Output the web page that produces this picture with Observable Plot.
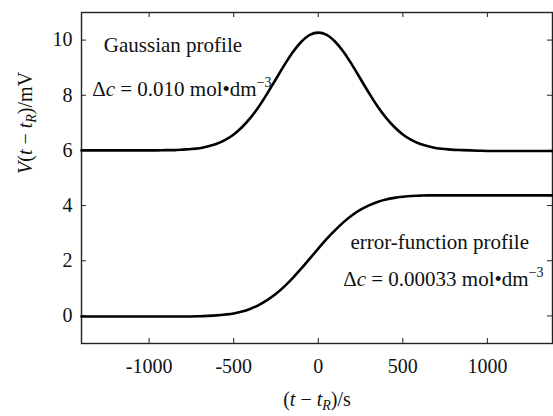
<!DOCTYPE html>
<html><head><meta charset="utf-8">
<script src="https://cdn.jsdelivr.net/npm/d3@7"></script>
<script src="https://cdn.jsdelivr.net/npm/@observablehq/plot@0.6"></script>
<style>body{margin:0;background:#fff} svg{display:block} svg text{font-family:"Liberation Serif","DejaVu Serif",serif !important}</style>
</head><body><div id="chart"></div>
<script>
// ---- data ----
const times = [-1400,-1350,-1300,-1250,-1200,-1150,-1100,-1050,-1000,-950,
  -900,-850,-800,-750,-700,-650,-600,-550,-500,-450,-400,-350,-300,-250,-200,-150,-100,-50,
  0,50,100,150,200,250,300,350,400,450,500,550,600,650,700,750,800,850,900,950,
  1000,1050,1100,1150,1200,1250,1300,1350,1400];
const gaussianProfile = [6.00,6.00,6.00,6.00,6.00,6.00,6.00,6.00,6.00,6.00,
  6.01,6.01,6.03,6.05,6.08,6.15,6.24,6.38,6.58,6.85,7.19,7.60,8.08,8.59,9.10,9.57,9.94,10.19,
  10.27,10.19,9.94,9.57,9.10,8.59,8.08,7.60,7.19,6.85,6.58,6.38,6.24,6.15,6.08,6.05,6.02,6.01,6.00,5.99,
  5.98,5.98,5.98,5.98,5.98,5.98,5.98,5.98,5.98];
const erfProfile = [-0.02,-0.02,-0.02,-0.02,-0.02,-0.02,-0.02,-0.02,-0.02,-0.02,
  -0.02,-0.02,-0.02,-0.02,-0.01,0.00,0.02,0.05,0.09,0.16,0.26,0.40,0.58,0.80,1.07,1.38,1.72,2.08,
  2.44,2.79,3.11,3.40,3.65,3.85,4.01,4.13,4.22,4.28,4.32,4.35,4.36,4.37,4.37,4.37,4.37,4.37,4.37,4.37,
  4.37,4.37,4.37,4.37,4.37,4.37,4.37,4.37,4.37];
const xTicks = [-1000, -500, 0, 500, 1000];
const yTicks = [0, 2, 4, 6, 8, 10];
const xTitle = "(t − tR)/s";
const yTitle = "V(t − tR)/mV";
const gaussTitle = "Gaussian profile";
const gaussConc = "Δc = 0.010 mol•dm−3";
const erfTitle = "error-function profile";
const erfConc = "Δc = 0.00033 mol•dm−3";

// rich-text versions (italics, sub/superscripts)
const rich = {
  [xTitle]: '(<tspan font-style="italic">t</tspan> − <tspan font-style="italic">t</tspan><tspan dy="4" font-size="14" font-style="italic">R</tspan><tspan dy="-4">)/s</tspan>',
  [yTitle]: '<tspan font-style="italic">V</tspan>(<tspan font-style="italic">t</tspan> − <tspan font-style="italic">t</tspan><tspan dy="4" font-size="14" font-style="italic">R</tspan><tspan dy="-4">)/mV</tspan>',
  [gaussConc]: 'Δ<tspan font-style="italic">c</tspan> = 0.010 mol•dm<tspan dy="-9" font-size="14">−3</tspan>',
  [erfConc]: 'Δ<tspan font-style="italic">c</tspan> = 0.00033 mol•dm<tspan dy="-9" font-size="14">−3</tspan>'
};

const gaussRows = times.map((t, i) => ({t, v: gaussianProfile[i]}));
const erfRows = times.map((t, i) => ({t, v: erfProfile[i]}));

const W = 553, H = 416, mL = 81, mR = 1, mT = 12, mB = 73;
const innerH = H - mT - mB, innerW = W - mL - mR, tk = 5;
const serif = "Liberation Serif";

const chart = Plot.plot({
  width: W, height: H,
  marginLeft: mL, marginRight: mR, marginTop: mT, marginBottom: mB,
  style: {fontFamily: serif, fontSize: "20px", color: "#111", background: "#fff"},
  x: {domain: [-1400, 1385], label: null},
  y: {domain: [-1, 11], label: null},
  marks: [
    Plot.axisX(xTicks, {tickSize: 0, tickPadding: 15, fontSize: 20, fontFamily: serif, tickFormat: d => String(d), label: null}),
    Plot.axisY(yTicks, {tickSize: 0, tickPadding: 9, fontSize: 20, fontFamily: serif, tickFormat: d => String(d), label: null}),
    Plot.ruleX(xTicks, {x: d => d, insetTop: innerH - tk, stroke: "#222"}),
    Plot.ruleX(xTicks, {x: d => d, insetBottom: innerH - tk, stroke: "#222"}),
    Plot.ruleY(yTicks, {y: d => d, insetRight: innerW - tk, stroke: "#222"}),
    Plot.ruleY(yTicks, {y: d => d, insetLeft: innerW - tk, stroke: "#222"}),
    Plot.frame({stroke: "#222", strokeWidth: 1.4}),
    Plot.line(gaussRows, {x: "t", y: "v", stroke: "#000", strokeWidth: 2.6, curve: "monotone-x"}),
    Plot.line(erfRows, {x: "t", y: "v", stroke: "#000", strokeWidth: 2.6, curve: "monotone-x"}),
    Plot.text([gaussTitle], {text: d => d, x: -1268, y: 9.56, textAnchor: "start", lineAnchor: "bottom", fontSize: 21, fontFamily: serif}),
    Plot.text([gaussConc], {text: d => d, x: -1337, y: 7.99, textAnchor: "start", lineAnchor: "bottom", fontSize: 21, fontFamily: serif}),
    Plot.text([erfTitle], {text: d => d, x: 190, y: 2.41, textAnchor: "start", lineAnchor: "bottom", fontSize: 21, fontFamily: serif}),
    Plot.text([erfConc], {text: d => d, x: 147, y: 1.10, textAnchor: "start", lineAnchor: "bottom", fontSize: 21, fontFamily: serif}),
    Plot.text([xTitle], {text: d => d, frameAnchor: "bottom", dy: 62, fontSize: 20, fontFamily: serif}),
    Plot.text([yTitle], {text: d => d, frameAnchor: "left", rotate: -90, dx: -56, dy: -4, fontSize: 20, fontFamily: serif})
  ]
});

chart.setAttribute("font-family", serif);
chart.querySelectorAll("text").forEach(el => {
  const s = el.textContent;
  if (rich[s]) el.innerHTML = rich[s];
});
document.getElementById("chart").appendChild(chart);
</script>
</body></html>
